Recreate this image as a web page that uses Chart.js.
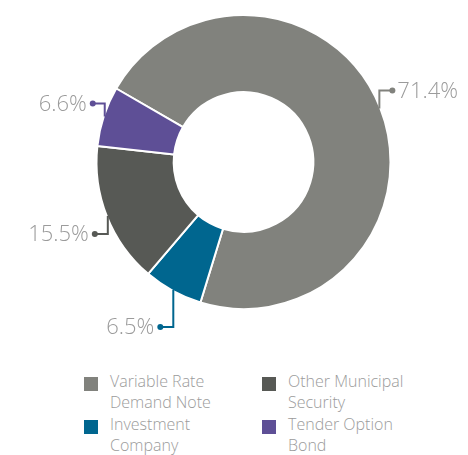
<!DOCTYPE html>
<html>
<head>
<meta charset="utf-8">
<script src="https://cdn.jsdelivr.net/npm/chart.js@4"></script>
<style>
    body { margin: 0; background: #fff; }
    #contenedor { position: relative; width: 468px; height: 455px; overflow: hidden; }
    #zona-grafico { position: absolute; left: 0; top: 0; width: 468px; height: 350px; }
    #leyenda {
        position: absolute; left: 84px; top: 371px;
        display: grid; grid-template-columns: 178px 178px; row-gap: 1px;
        font-family: "Open Sans", sans-serif; font-weight: 300; font-size: 16px;
        line-height: 21px; color: #9b9b9b;
    }
    .item { display: flex; align-items: flex-start; }
    .cuadro { width: 14px; height: 14px; margin: 6px 12px 0 0; flex: none; }
</style>
</head>
<body>
<div id="contenedor">
    <div id="zona-grafico"><canvas id="grafico"></canvas></div>
    <div id="leyenda"></div>
</div>
<script>
// Datos del grafico
const categorias = [["Variable Rate", "Demand Note"], ["Investment", "Company"], ["Other Municipal", "Security"], ["Tender Option", "Bond"]];
const porcentajes = [71.4, 6.5, 15.5, 6.6];
const etiquetas = ["71.4%", "6.5%", "15.5%", "6.6%"];

const colores = ["#81827d", "#00668f", "#575955", "#5e4f96"];
// largo del tramo vertical y horizontal de cada linea guia
const guias = [{dy: -18, dx: 13}, {dy: 37, dx: -13}, {dy: 18, dx: -13}, {dy: -13, dx: -12}];

//Plugin que dibuja las lineas guia con su punto y el porcentaje
const pluginEtiquetas = {
    id: "etiquetas",
    afterDatasetsDraw(chart){
        const ctx = chart.ctx;
        const arcos = chart.getDatasetMeta(0).data;
        arcos.forEach((arco, i) => {
            const p = arco.getProps(["x", "y", "startAngle", "endAngle", "outerRadius"], true);
            const medio = (p.startAngle + p.endAngle) / 2;
            const x0 = p.x + Math.cos(medio) * (p.outerRadius - 1);
            const y0 = p.y + Math.sin(medio) * (p.outerRadius - 1);
            const y1 = y0 + guias[i].dy;
            const x1 = x0 + guias[i].dx;

            ctx.save();
            ctx.strokeStyle = colores[i];
            ctx.fillStyle = colores[i];
            ctx.lineWidth = 2;
            ctx.beginPath();
            ctx.moveTo(x0, y0);
            ctx.lineTo(x0, y1);
            ctx.lineTo(x1, y1);
            ctx.stroke();
            ctx.beginPath();
            ctx.arc(x1, y1, 3, 0, Math.PI * 2);
            ctx.fill();

            ctx.font = "300 22px 'Open Sans', sans-serif";
            ctx.fillStyle = "#9b9b9b";
            ctx.textBaseline = "middle";
            if(guias[i].dx > 0){
                ctx.textAlign = "left";
                ctx.fillText(etiquetas[i], x1 + 5, y1 + 1);
            } else {
                ctx.textAlign = "right";
                ctx.fillText(etiquetas[i], x1 - 6, y1 + 1);
            }
            ctx.restore();
        });
    }
};

const canvas = document.getElementById("grafico").getContext("2d");
new Chart(canvas, {
    type: "doughnut",
    data: {
        labels: categorias.map(c => c.join(" ")),
        datasets: [{
            data: porcentajes,
            backgroundColor: colores,
            borderColor: "#ffffff",
            borderWidth: 2
        }]
    },
    options: {
        responsive: true,
        maintainAspectRatio: false,
        animation: false,
        cutout: "47.5%",
        rotation: -60,
        layout: { padding: { top: 14, bottom: 40, left: 19, right: 0 } },
        plugins: {
            legend: { display: false },
            tooltip: { enabled: false }
        }
    },
    plugins: [pluginEtiquetas]
});

//Leyenda en HTML, dos columnas
const orden = [0, 2, 1, 3];
const leyenda = document.getElementById("leyenda");
orden.forEach(i => {
    const item = document.createElement("div");
    item.className = "item";
    item.innerHTML = '<span class="cuadro" style="background:' + colores[i] + '"></span><span>' + categorias[i].join("<br>") + '</span>';
    leyenda.appendChild(item);
});
</script>
</body>
</html>
